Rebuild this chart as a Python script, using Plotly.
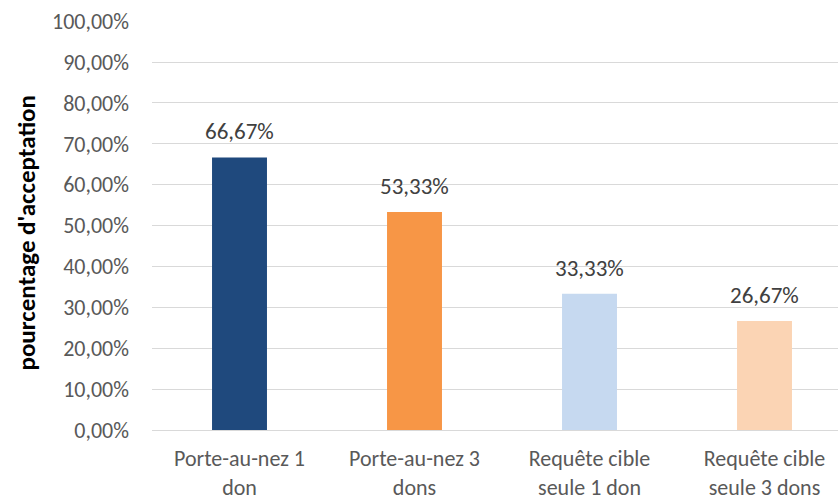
import plotly.graph_objects as go

categories = ["Porte-au-nez 1<br>don", "Porte-au-nez 3<br>dons", "Requête cible<br>seule 1 don", "Requête cible<br>seule 3 dons"]
values = [0.6667, 0.5333, 0.3333, 0.2667]
colors = ["#1F497D", "#F79646", "#C6D9F0", "#FBD4B4"]
tick_vals = [0, 0.1, 0.2, 0.3, 0.4, 0.5, 0.6, 0.7, 0.8, 0.9, 1.0]
y_title = "pourcentage d'acceptation"

font_family = "Carlito, Calibri, Lato, sans-serif"

xs = list(range(len(categories)))
fig = go.Figure(go.Bar(
    x=xs,
    y=values,
    marker_color=colors,
    marker_line_width=0,
    hoverinfo="skip",
))

for x, v in zip(xs, values):
    fig.add_annotation(
        x=x, y=v, xref="x", yref="y",
        text=f"{v*100:.2f}%".replace(".", ","),
        showarrow=False, yanchor="bottom", yshift=10,
        font=dict(family=font_family, size=23, color="#404040"),
    )

fig.add_annotation(
    x=0, y=0.5, xref="paper", yref="paper",
    text=f"<b>{y_title}</b>", textangle=-90,
    showarrow=False, xanchor="center", yanchor="middle",
    xshift=-126, yshift=-8,
    font=dict(family=font_family, size=25, color="#000000"),
)

fig.update_layout(
    width=838, height=501,
    margin=dict(l=152, r=0, t=21, b=71),
    paper_bgcolor="white", plot_bgcolor="white",
    separators=", ",
    bargap=0.686,
    showlegend=False,
    font=dict(family=font_family, color="#595959", size=22),
)
fig.update_xaxes(
    tickmode="array",
    tickvals=xs,
    ticktext=categories,
    range=[-0.5, 3.42],
    showgrid=False, zeroline=False, showline=False,
    tickfont=dict(family=font_family, size=22, color="#595959"),
    ticklabelstandoff=13,
    automargin=False,
)
fig.update_yaxes(
    range=[0, 1.0005],
    tickvals=tick_vals,
    tickformat=".2%",
    showgrid=True, gridcolor="#D9D9D9", gridwidth=1,
    zeroline=True, zerolinecolor="#D9D9D9", zerolinewidth=1,
    showline=False,
    tickfont=dict(family=font_family, size=22, color="#595959"),
    ticklabelstandoff=22,
    ticklabeloverflow="allow",
    automargin=False,
)

fig.write_html(
    "out.html",
    config={"displayModeBar": False},
    post_script="document.body.style.margin='0';document.body.style.overflow='hidden';",
)
